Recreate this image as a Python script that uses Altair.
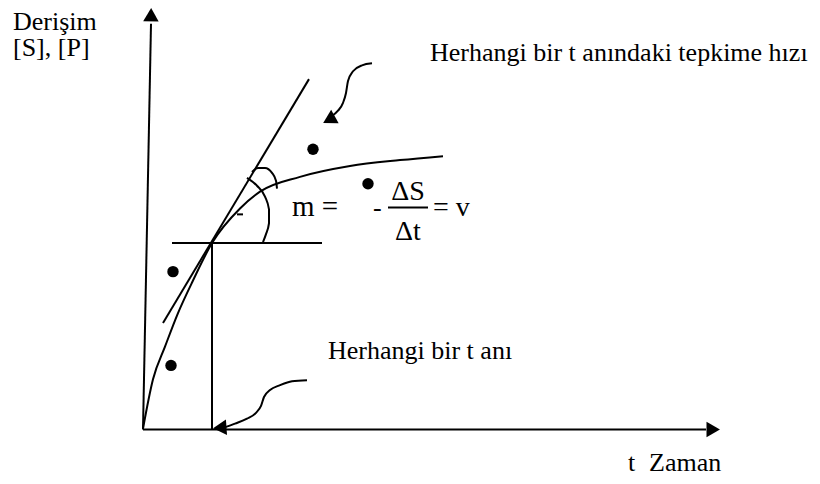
import altair as alt
import pandas as pd

# ---- diagram data (screen-like coordinates, y grows downward) ----
curve_x = [143, 153, 165, 178, 193, 212, 240, 260, 300, 350, 400, 443]
curve_y = [430, 380, 347, 313, 280, 242, 207, 190, 175, 164, 158, 154]

arc_big_x = [247, 257, 265, 269, 269, 266, 263]
arc_big_y = [176, 184, 195, 208, 222, 233, 241]
arc_small_x = [252, 258, 265, 272, 276, 277]
arc_small_y = [170, 166, 166, 171, 179, 187]

hook_top_x = [372, 362, 353, 348, 346, 343, 338, 331]
hook_top_y = [60, 62, 68, 78, 90, 100, 108, 114]
hook_bot_x = [307, 292, 280, 270, 264, 261, 256, 247, 235, 224]
hook_bot_y = [381, 382, 386, 391, 398, 407, 414, 420, 425, 429]

seg_names = ["y axis", "x axis", "t line", "horizontal", "tangent", "tick", "fraction"]
seg_x1 = [151, 143, 212, 172, 163, 237, 388]
seg_y1 = [20, 431, 242, 242, 323, 213, 206]
seg_x2 = [143, 706, 212, 322, 309, 243, 428]
seg_y2 = [431, 431, 431, 242, 76, 213, 206]

dots_x = [313, 368, 173, 171]
dots_y = [147, 182, 271, 366]

heads_x = [151, 711, 331, 222]
heads_y = [13, 431, 116, 429]
heads_angle = [1, 90, 241, 266]

labels = ["Derişim", "[S], [P]", "Herhangi bir t anındaki tepkime hızı",
          "Herhangi bir t anı", "t", "Zaman", "m =", "-", "= v"]
labels_x = [13, 13, 430, 328, 628, 649, 292, 373, 433]
labels_y = [26, 53, 58, 359, 473, 473, 215, 215, 215]
labels_fs = [26, 26, 26, 26, 26, 26, 29, 26, 28]

frac = ["ΔS", "Δt"]
frac_x = [408, 408]
frac_y = [198, 239]
frac_fs = [28, 28]

# ---- scales mapping data to page pixels ----
xs = alt.Scale(domain=[8, 812], nice=False, zero=False)
ys = alt.Scale(domain=[8, 476], nice=False, zero=False, reverse=True)
X = lambda f: alt.X(f, type="quantitative", scale=xs, axis=None)
Y = lambda f: alt.Y(f, type="quantitative", scale=ys, axis=None)

def path_df(xv, yv, name):
    return pd.DataFrame({"x": xv, "y": yv, "o": list(range(len(xv))), "g": name})

paths = pd.concat([
    path_df(curve_x, curve_y, "curve"),
    path_df(arc_big_x, arc_big_y, "arc_big"),
    path_df(arc_small_x, arc_small_y, "arc_small"),
    path_df(hook_top_x, hook_top_y, "hook_top"),
    path_df(hook_bot_x, hook_bot_y, "hook_bot"),
])

curves = alt.Chart(paths).mark_line(
    color="black", strokeWidth=2, interpolate="monotone"
).encode(
    x=X("x"), y=Y("y"), detail="g:N", order="o:Q"
)

segs = alt.Chart(pd.DataFrame({
    "n": seg_names, "x": seg_x1, "y": seg_y1, "x2": seg_x2, "y2": seg_y2
})).mark_rule(color="black", strokeWidth=2).encode(
    x=X("x"), y=Y("y"), x2="x2:Q", y2="y2:Q"
)

dots = alt.Chart(pd.DataFrame({"x": dots_x, "y": dots_y})).mark_point(
    shape="circle", filled=True, color="black", size=130, opacity=1
).encode(x=X("x"), y=Y("y"))

heads = alt.Chart(pd.DataFrame({"x": heads_x, "y": heads_y, "a": heads_angle})).mark_point(
    shape="triangle", filled=True, color="black", size=240, opacity=1
).encode(x=X("x"), y=Y("y"), angle=alt.Angle("a:Q", scale=None))

texts = alt.Chart(pd.DataFrame({
    "t": labels, "x": labels_x, "y": labels_y, "fs": labels_fs
})).mark_text(
    font="Liberation Serif", align="left", baseline="alphabetic", color="black"
).encode(
    x=X("x"), y=Y("y"), text="t:N", size=alt.Size("fs:Q", scale=None)
)

ftexts = alt.Chart(pd.DataFrame({
    "t": frac, "x": frac_x, "y": frac_y, "fs": frac_fs
})).mark_text(
    font="Liberation Serif", align="center", baseline="alphabetic", color="black"
).encode(
    x=X("x"), y=Y("y"), text="t:N", size=alt.Size("fs:Q", scale=None)
)

chart = alt.layer(curves, segs, dots, heads, texts, ftexts).properties(
    width=804, height=468,
    autosize=alt.AutoSizeParams(type="fit", contains="padding"),
    padding=0,
    background="white",
).configure_view(strokeWidth=0, stroke=None)

chart.save("out.html", embed_options={"renderer": "svg", "actions": False})
